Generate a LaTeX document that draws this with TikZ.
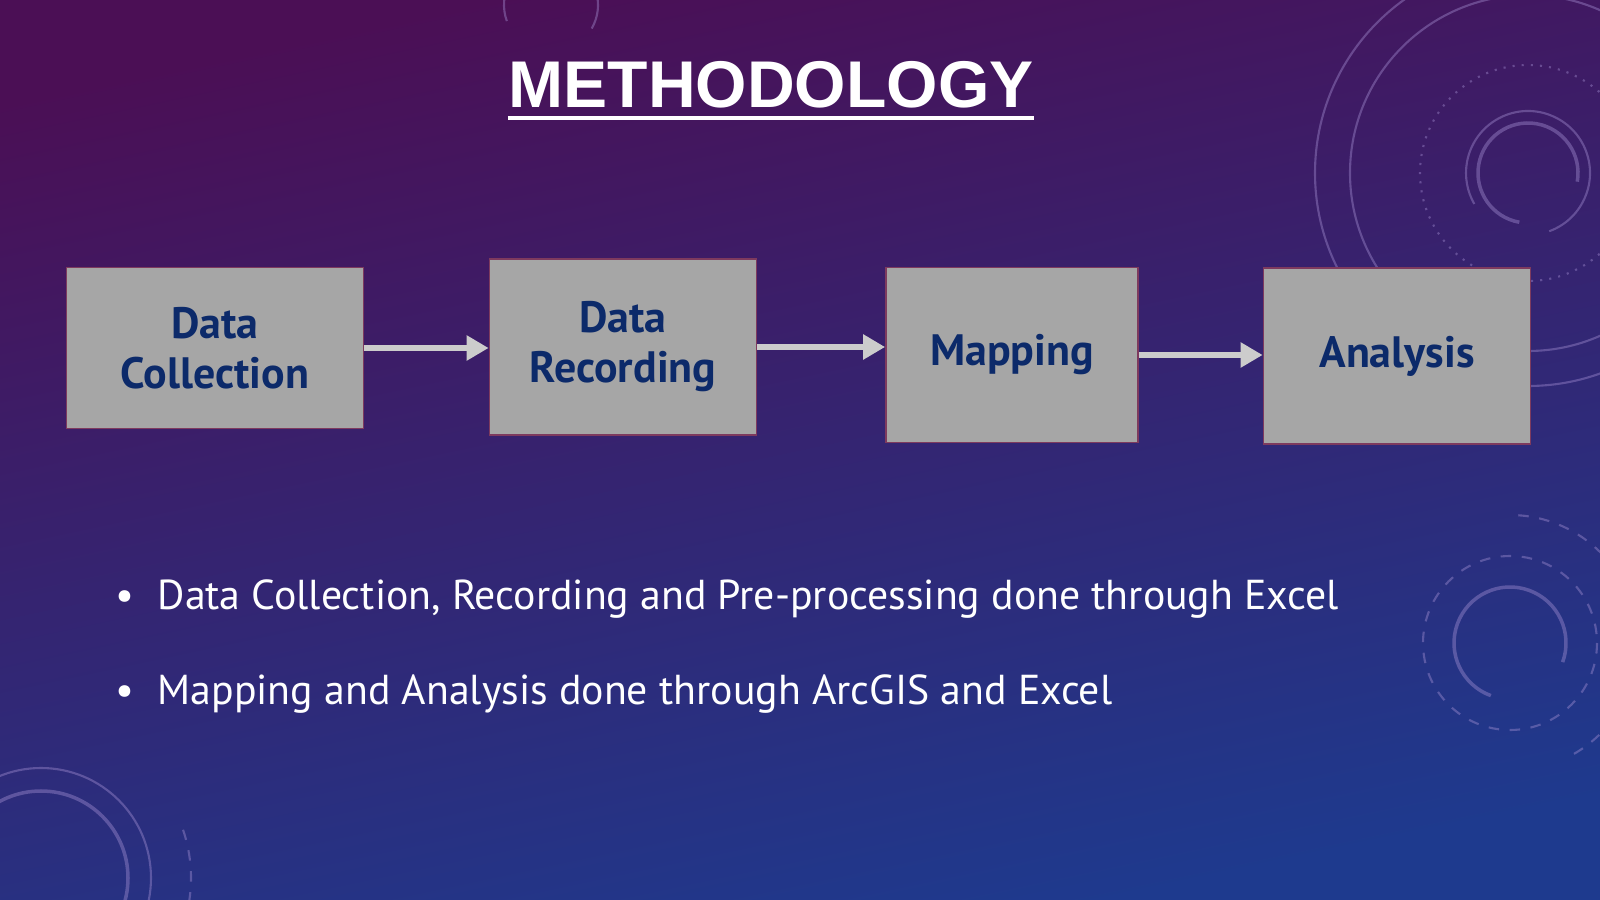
\documentclass[tikz,border=0pt]{standalone}
\usepackage{fontspec}
\setmainfont{PT Sans}
\newfontfamily\titlefont{Liberation Sans}
\usepackage{tikz}
\usetikzlibrary{arrows.meta}
\definecolor{bgtop}{HTML}{4B0F55}
\definecolor{bgmid}{HTML}{3A1D70}
\definecolor{bgbot}{HTML}{1E3A8E}
\definecolor{boxgray}{HTML}{A6A6A6}
\definecolor{boxline}{HTML}{7E3A5E}
\definecolor{navy}{HTML}{0C2A6A}
\definecolor{arrowgray}{HTML}{CCCCCC}
\definecolor{deco}{HTML}{A893D6}

\begin{document}
\begin{tikzpicture}[x=0.1mm, y=-0.1mm,
  stage/.style={draw=boxline, line width=0.5pt, fill=boxgray, text=navy, align=center,
    font=\fontsize{12.5}{14.2}\selectfont\bfseries, inner sep=0pt},
  flow/.style={arrowgray, line width=1.7pt, -{Triangle[width=2.4mm, length=2.2mm]}},
  ring/.style={deco, line width=0.6pt, opacity=0.4},
  point/.style={white, anchor=base west, inner sep=0pt, font=\fontsize{11.9}{14}\selectfont}]
\useasboundingbox (0,0) rectangle (1600,900);
\shade [top color=bgtop, middle color=bgmid, bottom color=bgbot, shading angle=12] (0,0) rectangle (1600,900);
\begin{scope}
\clip (0,0) rectangle (1600,900);
\draw [ring] (1528,173) circle (213);
\draw [ring] (1528,173) circle (178);
\draw [ring, dotted] (1528,173) circle (108);
\draw [ring, line width=1pt] (1528,173) ++(100:50) arc (100:370:50);
\draw [ring] (1528,173) ++(70:62) arc (70:-210:62);
\draw [ring, line width=1pt] (1510,643) ++(20:56) arc (20:-250:56);
\draw [ring, dashed] (1510,643) circle (87);
\draw [ring, dashed] (1510,643) ++(60:128) arc (60:-90:128);
\draw [ring, line width=1pt] (41,878) circle (87);
\draw [ring] (41,878) circle (110);
\draw [ring, dashed] (41,878) ++(90:150) arc (90:-20:150);
\draw [ring] (551,5) ++(30:47) arc (30:-200:47);
\end{scope}

\node [white, anchor=base, inner sep=0pt, font=\titlefont\fontsize{18.8}{22}\selectfont\bfseries] (ttl) at (771,108) {METHODOLOGY};
\draw [white, line width=0.4mm] ([yshift=-1.0mm]ttl.base west) -- ([yshift=-1.0mm]ttl.base east);

\node [stage, minimum width=29.7mm, minimum height=16.1mm] (dc) at (215,348) {Data\\Collection};
\node [stage, minimum width=26.7mm, minimum height=17.6mm] (dr) at (623,347) {Data\\Recording};
\node [stage, minimum width=25.2mm, minimum height=17.5mm] (map) at (1012,355) {Mapping};
\node [stage, minimum width=26.7mm, minimum height=17.6mm] (an) at (1397,356) {Analysis};

\draw [flow] (dc.east) -- (dc.east -| dr.west);
\draw [flow] (dr.east) -- (dr.east -| map.west);
\draw [flow] (map.east) -- (map.east -| an.west);

\node [white, anchor=base, font=\fontsize{11.9}{14}\selectfont] (dot1) at (125,609) {\textbullet};
\node [point] (b1) at (157,609) {Data Collection, Recording and Pre-processing done through Excel};
\node [white, anchor=base, font=\fontsize{11.9}{14}\selectfont] (dot2) at (125,704) {\textbullet};
\node [point] (b2) at (157,704) {Mapping and Analysis done through ArcGIS and Excel};
\end{tikzpicture}
\end{document}
